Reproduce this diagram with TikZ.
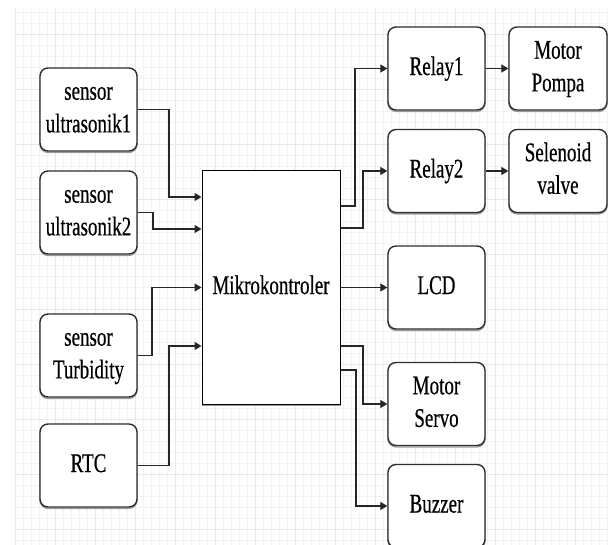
\documentclass[tikz,border=0pt]{standalone}
\usepackage{fontspec}
\setmainfont{Liberation Serif}
\newfontfamily\dfont[FakeBold=0.6]{Liberation Serif}
\usepackage{graphicx}
\usetikzlibrary{arrows.meta}
\newcommand{\bx}[1]{\scalebox{1}[1.42]{\dfont\fontsize{19}{23}\selectfont\begin{tabular}{@{}c@{}}#1\end{tabular}}}
\definecolor{gridminor}{HTML}{F3F3F3}
\definecolor{gridmajor}{HTML}{E8E8E8}
\definecolor{edge}{HTML}{2E2E2E}
\tikzset{
  box/.style={draw=edge, line width=1.4pt, rounded corners=8pt, fill=white,
    minimum width=97pt, minimum height=83pt, inner sep=0pt,
    preaction={draw=black!40, line width=1.3pt, transform canvas={yshift=-1.4pt}}},
  mcubox/.style={draw=black, line width=1pt, fill=white, minimum width=138pt,
    minimum height=233pt, inner sep=0pt,
    preaction={draw=black!40, line width=1pt, transform canvas={yshift=-1.4pt}}},
  arr/.style={draw=black!85, line width=1.3pt, -{Triangle[length=7pt,width=8pt]}}
}
\begin{document}
\begin{tikzpicture}[x=1pt,y=-1pt]
\useasboundingbox (0,0) rectangle (608,545);
\fill[white] (0,0) rectangle (608,545);
% grid
\begin{scope}
\clip (15,9) rectangle (608,545);
\foreach \x in {15,23,...,608} \draw[gridminor, line width=0.6pt] (\x,9) -- (\x,545);
\foreach \y in {12,23,...,545} \draw[gridminor, line width=0.6pt] (15,\y) -- (608,\y);
\foreach \x in {15,55,...,608} \draw[gridmajor, line width=0.9pt] (\x,9) -- (\x,545);
\foreach \y in {34,89,...,545} \draw[gridmajor, line width=0.9pt] (15,\y) -- (608,\y);
\end{scope}
% nodes
\node[box] (us1) at (88.5,109.5) {\bx{sensor\\ultrasonik1}};
\node[box] (us2) at (88.5,212.5) {\bx{sensor\\ultrasonik2}};
\node[box] (turb) at (88.5,355.5) {\bx{sensor\\Turbidity}};
\node[box] (rtc) at (88.5,465.5) {\bx{RTC}};
\node[mcubox] (mcu) at (271,287.5) {\bx{Mikrokontroler}};
\node[box] (relay1) at (436.5,68.5) {\bx{Relay1}};
\node[box] (relay2) at (436.5,171) {\bx{Relay2}};
\node[box, minimum width=98pt] (pompa) at (558,68.5) {\bx{Motor\\Pompa}};
\node[box, minimum width=98pt] (valve) at (558,171) {\bx{Selenoid\\valve}};
\node[box] (lcd) at (436.5,287.5) {\bx{LCD}};
\node[box] (servo) at (436.5,404) {\bx{Motor\\Servo}};
\node[box] (buzzer) at (436.5,506) {\bx{Buzzer}};
% inputs
\draw[arr] (us1.east) -- (169,109.5) |- (mcu.west |- 0,197);
\draw[arr] (us2.east) -- (153,212.5) |- (mcu.west |- 0,229);
\draw[arr] (turb.east) -- (152,355.5) |- (mcu.west);
\draw[arr] (rtc.east) -- (169,465.5) |- (mcu.west |- 0,346);
% outputs
\draw[arr] (mcu.east |- 0,206) -- (355,206) |- (relay1.west);
\draw[arr] (mcu.east |- 0,228) -- (363,228) |- (relay2.west);
\draw[arr] (mcu.east) -- (lcd.west);
\draw[arr] (mcu.east |- 0,346) -- (363,346) |- (servo.west);
\draw[arr] (mcu.east |- 0,370) -- (356,370) |- (buzzer.west);
\draw[arr] (relay1.east) -- (pompa.west);
\draw[arr] (relay2.east) -- (valve.west);
\end{tikzpicture}
\end{document}
